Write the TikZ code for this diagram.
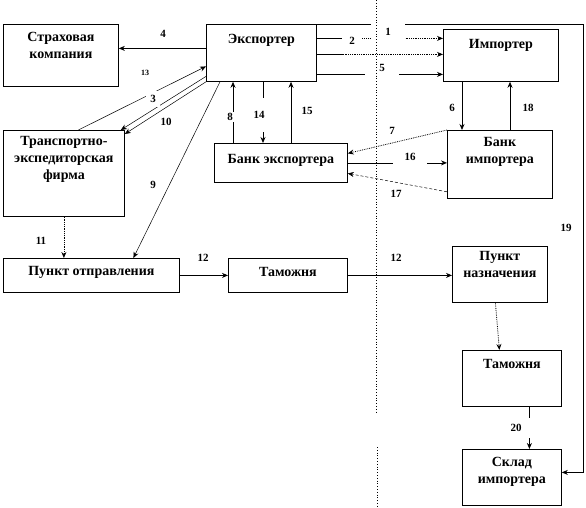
\documentclass[tikz,border=0pt]{standalone}
\usepackage{fontspec}
\setmainfont{Liberation Serif}
\usetikzlibrary{arrows.meta,calc}
\newcommand{\boxtext}[4]{\parbox[c][#2][t]{#1}{\centering\vspace*{#3}#4\par}}
\tikzset{
  blk/.style={draw, inner sep=0pt, anchor=north west, font=\fontsize{14}{17}\selectfont\bfseries},
  num/.style={fill=white, inner sep=1pt, font=\fontsize{11}{13}\selectfont\bfseries}
}

\begin{document}
\begin{tikzpicture}[x=1pt, y=-1pt, >={Stealth[length=6pt,width=5pt]}, line width=0.8pt]
\useasboundingbox (0,0) rectangle (586,508);
% boxes
\node[blk] (strah) at (3,24) {\boxtext{115pt}{62pt}{8pt}{Страховая\\компания}};
\node[blk] (exp) at (206,24) {\boxtext{110pt}{57pt}{10pt}{Экспортер}};
\node[blk] (imp) at (443,29) {\boxtext{115pt}{52pt}{10pt}{Импортер}};
\node[blk] (trans) at (3,130) {\boxtext{121pt}{86pt}{6pt}{Транспортно-\\экспедиторская\\фирма}};
\node[blk] (bexp) at (214,143) {\boxtext{133pt}{39pt}{11pt}{Банк экспортера}};
\node[blk] (bimp) at (447,130) {\boxtext{105pt}{68pt}{7pt}{Банк\\импортера}};
\node[blk] (potpr) at (3,258) {\boxtext{176pt}{34pt}{8pt}{Пункт отправления}};
\node[blk] (tam1) at (228,258) {\boxtext{119pt}{34pt}{9pt}{Таможня}};
\node[blk] (pnaz) at (452,246) {\boxtext{95pt}{56pt}{5pt}{Пункт\\назначения}};
\node[blk] (tam2) at (462,350) {\boxtext{99pt}{56pt}{9pt}{Таможня}};
\node[blk] (sklad) at (462,449) {\boxtext{99pt}{56pt}{8pt}{Склад\\импортера}};

% exporter -> importer
\coordinate (e1) at ([yshift=14.5pt]exp.east);
\coordinate (e2) at ([yshift=-1.5pt]exp.east);
\coordinate (e5) at ([yshift=-21.5pt]exp.east);
\draw (e1) -- ++(24,0) coordinate (m1);
\draw[->, densely dotted] (m1) -- (e1 -| imp.west);
\draw (e2) -- ++(26,0) coordinate (m2);
\draw[->, densely dotted] (m2) -- (e2 -| imp.west);
\draw[->] (e5) -- (e5 -| imp.west);
\coordinate (s19) at ([yshift=5pt]sklad.east);
\draw[->] (exp.north east) -| ([xshift=22pt]s19) -- (s19);

% exporter side
\coordinate (e4) at ([yshift=4.5pt]exp.west);
\draw[->] (e4) -- (e4 -| strah.east);
\draw[->, line width=0.5pt] ([xshift=14.5pt]trans.north) -- ([yshift=-13.5pt]exp.west);
\draw[->, line width=0.5pt] ([yshift=-23.5pt]exp.west) -- ([xshift=-4pt]trans.north east);
\draw[->, line width=0.5pt] (exp.south west) -- ([yshift=-4pt]trans.north east);
\draw[->, line width=0.5pt] ([xshift=14pt]exp.south west) -- ([xshift=42pt]potpr.north);
\coordinate (b8) at ([xshift=19pt]bexp.north west);
\draw[->] (b8) -- (b8 |- exp.south);
\coordinate (e14) at ([xshift=57pt]exp.south west);
\draw[->] (e14) -- (e14 |- bexp.north);
\coordinate (b15) at ([xshift=77pt]bexp.north west);
\draw[->] (b15) -- (b15 |- exp.south);

% banks
\coordinate (i6) at ([xshift=19pt]imp.south west);
\draw[->] (i6) -- (i6 |- bimp.north);
\coordinate (b18) at ([xshift=63pt]bimp.north west);
\draw[->] (b18) -- (b18 |- imp.south);
\draw[->, densely dotted] (bimp.north west) -- ([yshift=9.5pt]bexp.east);
\draw[->] (bexp.east) -- (bexp.east -| bimp.west);
\draw[->, densely dashed, line width=0.5pt] ([yshift=7pt]bimp.south west) -- ([yshift=-10.5pt]bexp.east);

% goods
\draw[->, densely dotted] (trans.south) -- (trans.south |- potpr.north);
\draw[->] (potpr.east) -- (tam1.west);
\draw[->] (tam1.east) -- (tam1.east -| pnaz.west);
\draw[->, densely dotted] ([xshift=-4.5pt]pnaz.south) -- ([xshift=-12.5pt]tam2.north);
\coordinate (t20) at ([xshift=17.5pt]tam2.south);
\draw[->] (t20) -- (t20 |- sklad.north);

% numbers
\node[num, minimum width=34pt, minimum height=24pt] (n1) at (388,32) {1};
\node[num, minimum width=20pt, minimum height=12pt] (n2) at (352,41) {2};
\node[num, minimum width=34pt, minimum height=18pt] (n5) at (382,68) {5};
\node[num] (n4) at (163,34) {4};
\node[num, font=\fontsize{8}{9}\selectfont\bfseries] (n13) at (145,73) {13};
\node[num, inner sep=4pt] (n3) at (153,99) {3};
\node[num] (n10) at (166,122) {10};
\node[num] (n9) at (153,185) {9};
\node[num] (n8) at (230,117) {8};
\node[num, minimum width=18pt, minimum height=34pt] (n14) at (259,115) {14};
\node[num] (n15) at (307,111) {15};
\node[num] (n6) at (452,108) {6};
\node[num] (n18) at (528,108) {18};
\node[num] (n7) at (392,131) {7};
\node[num, minimum width=34pt, minimum height=16pt] (n16) at (410,157) {16};
\node[num] (n17) at (396,194) {17};
\node[num] (n11) at (41,241) {11};
\node[num] (n12a) at (203,258) {12};
\node[num] (n12b) at (396,258) {12};
\node[num] (n19) at (566,228) {19};
\node[num, minimum width=28pt, minimum height=20pt] (n20) at (516,428) {20};

% border line
\draw[dotted] (376,0) -- (376,413);
\draw[dotted] (377,447) -- (377,508);
\end{tikzpicture}
\end{document}
